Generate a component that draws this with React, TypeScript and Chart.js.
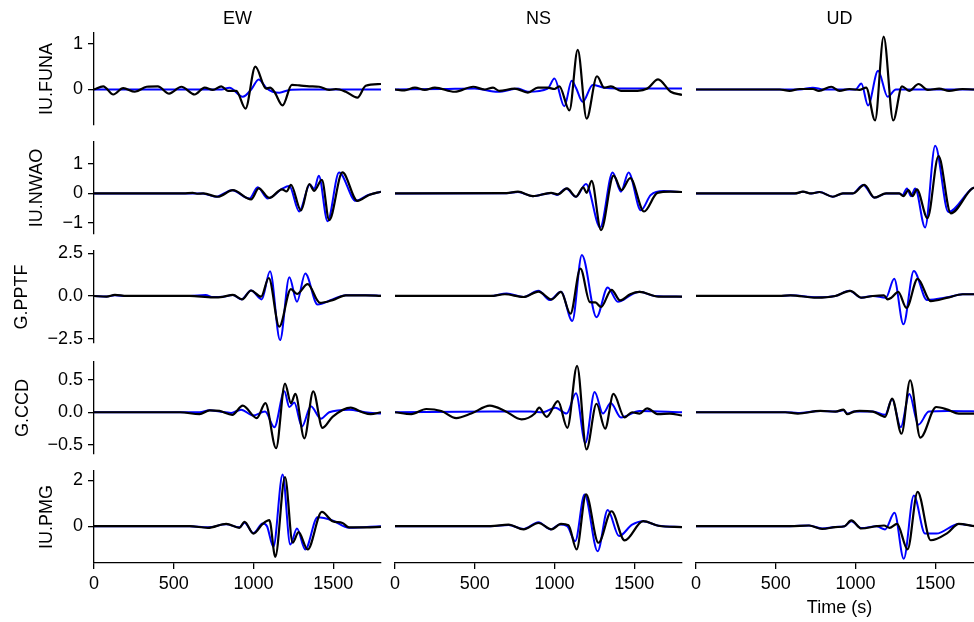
import React, { useEffect, useRef } from "react";
import { Chart, registerables } from "chart.js";

Chart.register(...registerables);

// ---------- labels & ticks ----------
const COMPONENTS = ["EW", "NS", "UD"];
const STATIONS = ["IU.FUNA", "IU.NWAO", "G.PPTF", "G.CCD", "IU.PMG"];
const X_TICKS = [0, 500, 1000, 1500];
const X_LIMITS = [0, 1800];
const Y_TICKS = [[0, 1], [-1, 0, 1], [-2.5, 0, 2.5], [-0.5, 0, 0.5], [0, 2]];
const Y_DECIMALS = [0, 0, 1, 1, 0];
const Y_LIMITS = [[-0.78, 1.24], [-1.37, 1.74], [-2.75, 2.63], [-0.64, 0.77], [-1.6, 2.4]];
const X_TITLE = "Time (s)";

// ---------- waveforms: [time (s), amplitude] ; OBS = black, SYN = blue ----------
const FUNA_EW_OBS = [[0,0],[58,0.07],[121,-0.11],[183,0.03],[256,-0.05],[330,0.06],[400,0.07],[471,-0.09],[548,0.06],[631,-0.11],[694,0.04],[746,-0.01],[798,0.07],[840,-0.03],[892,-0.03],[950,-0.42],[1012,0.5],[1079,0.02],[1104,0.04],[1131,-0.05],[1183,-0.35],[1241,0.1],[1288,0.09],[1350,0.07],[1412,0.06],[1475,-0.01],[1517,0.01],[1579,-0.05],[1652,-0.18],[1704,0.08],[1800,0.12]];
const FUNA_EW_SYN = [[0,0],[800,0],[850,0.04],[933,-0.16],[986,0],[1033,0.22],[1079,0.04],[1120,-0.05],[1163,-0.07],[1225,-0.01],[1300,0],[1800,0]];
const FUNA_NS_OBS = [[0,0],[60,-0.02],[125,0.04],[187,-0.01],[250,0.04],[375,-0.05],[490,0.06],[562,0],[615,0.04],[653,-0.03],[750,0.02],[833,-0.07],[896,0.04],[958,0.04],[1000,0.01],[1031,0.07],[1094,-0.46],[1146,0.87],[1202,-0.64],[1267,0.29],[1312,0.04],[1354,0.07],[1417,-0.03],[1521,-0.03],[1583,0.02],[1650,0.22],[1729,-0.05],[1800,-0.12]];
const FUNA_NS_SYN = [[0,0],[300,0.01],[500,0.02],[646,-0.05],[771,0.02],[833,-0.05],[958,0.02],[1000,0.24],[1062,-0.37],[1108,0.19],[1135,0.04],[1177,-0.27],[1240,0.1],[1312,0.04],[1500,0.02],[1800,0.02]];
const FUNA_UD_OBS = [[0,0],[525,0],[587,-0.03],[650,0.01],[733,0.01],[771,-0.03],[848,0.06],[900,-0.03],[962,0.01],[1025,-0.01],[1067,0.04],[1123,-0.68],[1177,1.16],[1237,-0.68],[1292,0.07],[1337,-0.03],[1396,0.12],[1454,-0.01],[1525,0.02],[1587,-0.03],[1671,0.01],[1750,0],[1800,0]];
const FUNA_UD_SYN = [[0,0],[650,0],[733,0.04],[800,0],[1000,0],[1037,0.13],[1079,-0.35],[1142,0.41],[1202,-0.16],[1254,0],[1800,0]];

const NWAO_EW_OBS = [[0,0],[560,0],[620,0.02],[646,-0.01],[687,0],[777,-0.11],[871,0.11],[985,-0.2],[1033,0.17],[1100,-0.15],[1179,0.14],[1208,0.07],[1235,0.29],[1298,-0.57],[1350,0.32],[1381,0.09],[1429,0.46],[1475,-0.9],[1558,0.71],[1652,-0.25],[1725,-0.05],[1800,0.06]];
const NWAO_EW_SYN = [[0,0],[620,0],[680,0],[767,-0.11],[865,0.11],[975,-0.17],[1027,0.21],[1090,-0.17],[1183,0.17],[1225,0.25],[1287,-0.61],[1354,0.3],[1381,0.15],[1410,0.6],[1465,-0.94],[1537,0.71],[1642,-0.25],[1720,-0.05],[1800,0.06]];
const NWAO_NS_OBS = [[0,0],[700,0.01],[771,0.06],[865,-0.09],[979,0.02],[1021,-0.03],[1079,0.17],[1135,-0.11],[1181,0.21],[1202,0.02],[1233,0.43],[1292,-1.24],[1371,0.6],[1421,0.11],[1475,0.52],[1562,-0.61],[1646,0.02],[1729,0.06],[1800,0.05]];
const NWAO_NS_SYN = [[0,0],[700,0.01],[771,0.05],[865,-0.09],[979,0.02],[1015,-0.05],[1073,0.17],[1135,-0.11],[1198,0.32],[1287,-1.15],[1365,0.71],[1417,0.06],[1465,0.71],[1542,-0.57],[1604,-0.05],[1687,0.08],[1800,0.05]];
const NWAO_UD_OBS = [[0,0],[620,0],[671,0.06],[723,0],[775,0.05],[858,-0.11],[921,0],[983,0],[1056,0.29],[1119,-0.14],[1192,0],[1275,0],[1300,-0.09],[1333,0.11],[1358,-0.09],[1385,0.14],[1452,-0.83],[1521,1.26],[1598,-0.67],[1733,0.17],[1800,0.25]];
const NWAO_UD_SYN = [[0,0],[620,0],[671,0.06],[723,0],[775,0.05],[858,-0.11],[921,0],[983,0],[1048,0.29],[1119,-0.14],[1192,0],[1275,0],[1295,-0.05],[1323,0.17],[1348,-0.09],[1375,0.17],[1437,-1.15],[1500,1.61],[1583,-0.63],[1733,0.17],[1800,0.25]];

const PPTF_EW_OBS = [[0,0],[79,-0.04],[131,0.06],[204,0],[600,0],[746,-0.08],[808,-0.05],[871,0.06],[929,-0.2],[985,0.32],[1048,-0.04],[1096,1.05],[1162,-1.79],[1235,0.4],[1273,0.12],[1340,0.69],[1417,-0.4],[1496,-0.24],[1579,0.04],[1704,0.04],[1800,0.01]];
const PPTF_EW_SYN = [[0,0],[79,-0.03],[131,0.04],[204,0],[600,0],[700,0.05],[746,-0.06],[808,-0.05],[871,0.06],[925,-0.2],[985,0.32],[1052,-0.2],[1104,1.45],[1167,-2.58],[1225,1.09],[1273,-0.34],[1325,1.31],[1402,-0.5],[1496,-0.2],[1579,0.04],[1704,0.04],[1800,0.01]];
const PPTF_NS_OBS = [[0,0],[600,0],[689,0.1],[806,-0.06],[900,0.26],[982,-0.2],[1041,0.24],[1100,-1.04],[1163,1.6],[1222,-0.36],[1257,-0.38],[1292,-0.64],[1358,0.36],[1412,-0.26],[1475,0.1],[1534,0.24],[1652,-0.04],[1800,-0.04]];
const PPTF_NS_SYN = [[0,0],[600,0],[700,0.14],[806,-0.06],[900,0.3],[970,-0.24],[1041,0.24],[1112,-1.46],[1172,2.4],[1264,-1.24],[1334,0.5],[1398,-0.34],[1487,0.1],[1534,0.24],[1628,0],[1800,-0.04]];
const PPTF_UD_OBS = [[0,0],[520,0],[592,0.04],[757,-0.1],[874,0],[968,0.3],[1037,-0.1],[1109,0],[1179,0.04],[1202,-0.2],[1226,-0.1],[1268,0.24],[1320,-0.7],[1390,1.0],[1472,-0.3],[1578,-0.1],[1672,0.1],[1750,0.1],[1800,0.08]];
const PPTF_UD_SYN = [[0,0],[520,0],[592,0.04],[757,-0.08],[874,0],[962,0.3],[1037,-0.1],[1109,0],[1191,-0.1],[1243,1.0],[1301,-1.66],[1366,1.46],[1449,-0.24],[1578,-0.08],[1672,0.1],[1750,0.1],[1800,0.08]];

const CCD_EW_OBS = [[0,0],[540,0],[662,-0.03],[725,0.03],[787,0.02],[867,-0.04],[933,0.1],[1021,-0.09],[1075,0.14],[1142,-0.55],[1198,0.44],[1235,0.14],[1263,0.28],[1319,-0.4],[1375,0.32],[1433,-0.24],[1496,-0.07],[1610,0.07],[1683,0],[1735,-0.03],[1800,0]];
const CCD_EW_SYN = [[0,0],[540,0],[662,0],[725,0.03],[787,0.01],[860,-0.01],[923,0.04],[996,-0.05],[1073,0.01],[1131,-0.23],[1194,0.32],[1225,0.08],[1256,0.15],[1304,-0.22],[1360,0.09],[1423,-0.1],[1475,0],[1600,0.04],[1700,0],[1800,-0.02]];
const CCD_NS_OBS = [[0,0],[102,-0.03],[196,0.05],[290,0.02],[384,-0.09],[478,-0.02],[595,0.1],[689,0.02],[794,-0.11],[877,-0.02],[904,0.07],[951,-0.07],[1022,0.17],[1081,-0.24],[1142,0.71],[1201,-0.57],[1264,0.13],[1318,-0.25],[1370,0.28],[1440,-0.08],[1487,0],[1534,-0.02],[1581,0.06],[1652,-0.03],[1722,-0.02],[1800,-0.05]];
const CCD_NS_SYN = [[0,0],[600,0.01],[850,0.01],[930,0],[1006,0.07],[1076,-0.02],[1135,0.29],[1194,-0.47],[1252,0.31],[1304,-0.02],[1353,0.14],[1417,-0.08],[1534,0.02],[1800,0]];
const CCD_UD_OBS = [[0,0],[560,0],[639,-0.02],[780,0.02],[874,0.01],[925,0.04],[949,-0.03],[991,0.01],[1026,0.02],[1109,0.01],[1186,-0.07],[1230,0.21],[1289,-0.33],[1343,0.49],[1407,-0.39],[1507,0.08],[1578,0.04],[1648,-0.02],[1800,-0.02]];
const CCD_UD_SYN = [[0,0],[560,0],[639,-0.01],[780,0.02],[874,0.01],[925,0.03],[949,-0.02],[991,0.01],[1109,0.01],[1186,-0.04],[1230,0.2],[1284,-0.23],[1338,0.28],[1395,-0.19],[1460,0.01],[1578,0.02],[1800,0.01]];

const PMG_EW_OBS = [[0,0],[600,0],[714,-0.07],[829,0.1],[912,-0.07],[944,0.19],[1000,-0.32],[1058,0.1],[1100,0.26],[1137,-1.33],[1198,2.14],[1246,-0.72],[1283,-0.26],[1340,-1.01],[1429,0.62],[1496,0.22],[1558,0.14],[1600,-0.05],[1704,-0.05],[1800,-0.03]];
const PMG_EW_SYN = [[0,0],[600,0],[714,-0.05],[829,0.08],[912,-0.05],[944,0.15],[1000,-0.3],[1058,0.12],[1085,0],[1125,-0.9],[1183,2.25],[1231,-0.8],[1273,-0.1],[1325,-1.01],[1402,0.39],[1496,0.25],[1600,-0.07],[1800,0]];
const PMG_NS_OBS = [[0,0],[600,0],[712,0.07],[806,-0.14],[900,0.14],[982,-0.14],[1041,0.1],[1088,0.04],[1139,-1.01],[1198,1.38],[1276,-0.72],[1358,0.65],[1440,-0.62],[1556,0.22],[1652,0.02],[1800,-0.04]];
const PMG_NS_SYN = [[0,0],[600,0],[712,0.05],[806,-0.12],[900,0.17],[975,-0.14],[1033,0.07],[1080,0],[1130,-0.65],[1189,1.38],[1271,-1.09],[1334,0.7],[1405,-0.43],[1487,0.07],[1556,0.22],[1652,0.02],[1800,-0.03]];
const PMG_UD_OBS = [[0,0],[592,0],[709,0.03],[791,-0.12],[874,-0.04],[932,0],[974,0.25],[1037,-0.1],[1132,0],[1179,0.03],[1214,-0.07],[1261,0.1],[1327,-1.01],[1390,1.49],[1472,-0.61],[1578,-0.29],[1648,0.1],[1750,0],[1800,-0.02]];
const PMG_UD_SYN = [[0,0],[592,0],[709,0.03],[791,-0.1],[874,-0.03],[932,0],[974,0.22],[1037,-0.08],[1132,0],[1186,-0.14],[1245,0.58],[1303,-1.42],[1366,1.33],[1437,-0.32],[1507,-0.32],[1648,0.1],[1750,0],[1800,-0.02]];

const OBS = [
  [FUNA_EW_OBS, FUNA_NS_OBS, FUNA_UD_OBS],
  [NWAO_EW_OBS, NWAO_NS_OBS, NWAO_UD_OBS],
  [PPTF_EW_OBS, PPTF_NS_OBS, PPTF_UD_OBS],
  [CCD_EW_OBS, CCD_NS_OBS, CCD_UD_OBS],
  [PMG_EW_OBS, PMG_NS_OBS, PMG_UD_OBS],
];
const SYN = [
  [FUNA_EW_SYN, FUNA_NS_SYN, FUNA_UD_SYN],
  [NWAO_EW_SYN, NWAO_NS_SYN, NWAO_UD_SYN],
  [PPTF_EW_SYN, PPTF_NS_SYN, PPTF_UD_SYN],
  [CCD_EW_SYN, CCD_NS_SYN, CCD_UD_SYN],
  [PMG_EW_SYN, PMG_NS_SYN, PMG_UD_SYN],
];

// ---------- layout (pixels) ----------
const FONT = "'Liberation Sans', Arial, Helvetica, sans-serif";
const FS = 18;
const COL_LEFT = [94, 395, 696];
const PLOT_W = 287;
const ROW_TOP = [33, 142, 251, 362, 471];
const PLOT_H = 92;
const Y_AXIS_W = 94;
const X_AXIS_H = 50;
const PAD_V = 20;
const PAD_L = 20;
const PAD_R = 6;
const YTITLE_PAD = [36, 26, 11, 12, 36];

const fmt = (v: number, d: number) => {
  const s = Math.abs(v).toFixed(d);
  return v < 0 ? "\u2212" + s : s;
};

function geom(r: number, c: number) {
  const left = c === 0 ? 0 : COL_LEFT[c] - PAD_L;
  const top = ROW_TOP[r] - PAD_V;
  const width = COL_LEFT[c] + PLOT_W + PAD_R - left;
  const height = PLOT_H + PAD_V + (r === 4 ? X_AXIS_H : PAD_V);
  return { left, top, width, height };
}

export default function App() {
  const refs = useRef<(HTMLCanvasElement | null)[]>([]);

  useEffect(() => {
    const charts: Chart[] = [];
    for (let r = 0; r < STATIONS.length; r++) {
      for (let c = 0; c < COMPONENTS.length; c++) {
        const cv = refs.current[r * 3 + c];
        if (!cv) continue;
        const toXY = (arr: number[][]) => arr.map(([x, y]) => ({ x, y }));
        const axisGrid = {
          display: true,
          drawOnChartArea: false,
          drawTicks: true,
          tickLength: 6,
          color: "#000",
          lineWidth: 1.3,
        };
        const axisBorder = { display: true, color: "#000", width: 1.3 };
        const showX = r === 4;
        const showY = c === 0;
        const ch = new Chart(cv, {
          type: "line",
          data: {
            datasets: [
              {
                data: toXY(OBS[r][c]),
                borderColor: "#000000",
                borderWidth: 2.2,
                pointRadius: 0,
                cubicInterpolationMode: "monotone",
                fill: false,
                order: 0,
              },
              {
                data: toXY(SYN[r][c]),
                borderColor: "#0000ff",
                borderWidth: 2,
                pointRadius: 0,
                cubicInterpolationMode: "monotone",
                fill: false,
                order: 1,
              },
            ],
          } as any,
          options: {
            animation: false,
            responsive: true,
            maintainAspectRatio: false,
            events: [],
            layout: {
              padding: {
                left: showY ? 0 : PAD_L,
                right: PAD_R,
                top: PAD_V,
                bottom: showX ? 0 : PAD_V,
              },
            },
            plugins: {
              legend: { display: false },
              tooltip: { enabled: false },
              title: { display: false },
            },
            scales: {
              x: {
                type: "linear",
                min: X_LIMITS[0],
                max: X_LIMITS[1],
                display: showX,
                afterBuildTicks: (s: any) => {
                  s.ticks = X_TICKS.map((v) => ({ value: v }));
                },
                afterFit: (s: any) => {
                  if (showX) s.height = X_AXIS_H;
                },
                grid: axisGrid,
                border: axisBorder,
                ticks: {
                  color: "#000",
                  font: { family: FONT, size: FS },
                  padding: 4,
                  maxRotation: 0,
                  autoSkip: false,
                  callback: (v: any) => String(v),
                },
              },
              y: {
                type: "linear",
                min: Y_LIMITS[r][0],
                max: Y_LIMITS[r][1],
                display: showY,
                afterBuildTicks: (s: any) => {
                  s.ticks = Y_TICKS[r].map((v) => ({ value: v }));
                },
                afterFit: (s: any) => {
                  if (showY) s.width = Y_AXIS_W;
                },
                grid: axisGrid,
                border: axisBorder,
                ticks: {
                  color: "#000",
                  font: { family: FONT, size: FS },
                  padding: 5,
                  autoSkip: false,
                  callback: (v: any) => fmt(Number(v), Y_DECIMALS[r]),
                },
                title: {
                  display: true,
                  text: STATIONS[r],
                  color: "#000",
                  font: { family: FONT, size: FS },
                  padding: { top: YTITLE_PAD[r], bottom: 0 },
                },
              },
            },
          } as any,
        });
        charts.push(ch);
      }
    }
    return () => charts.forEach((ch) => ch.destroy());
  }, []);

  const cells: React.ReactNode[] = [];
  for (let r = 0; r < STATIONS.length; r++) {
    for (let c = 0; c < COMPONENTS.length; c++) {
      const g = geom(r, c);
      const idx = r * 3 + c;
      cells.push(
        <div
          key={idx}
          style={{ position: "absolute", left: g.left, top: g.top, width: g.width, height: g.height }}
        >
          <canvas ref={(el) => { refs.current[idx] = el; }} />
        </div>
      );
    }
  }

  const textStyle: React.CSSProperties = {
    position: "absolute",
    width: 200,
    textAlign: "center",
    fontFamily: FONT,
    fontSize: FS,
    lineHeight: `${FS}px`,
    color: "#000",
    whiteSpace: "nowrap",
  };

  return (
    <div
      style={{
        position: "fixed",
        left: 0,
        top: 0,
        width: 974,
        height: 622,
        overflow: "hidden",
        background: "#fff",
      }}
    >
      {cells}
      {COMPONENTS.map((name, c) => (
        <div key={name} style={{ ...textStyle, left: COL_LEFT[c] + PLOT_W / 2 - 100, top: 9 }}>
          {name}
        </div>
      ))}
      <div style={{ ...textStyle, left: COL_LEFT[2] + PLOT_W / 2 - 100, top: 598 }}>{X_TITLE}</div>
    </div>
  );
}
